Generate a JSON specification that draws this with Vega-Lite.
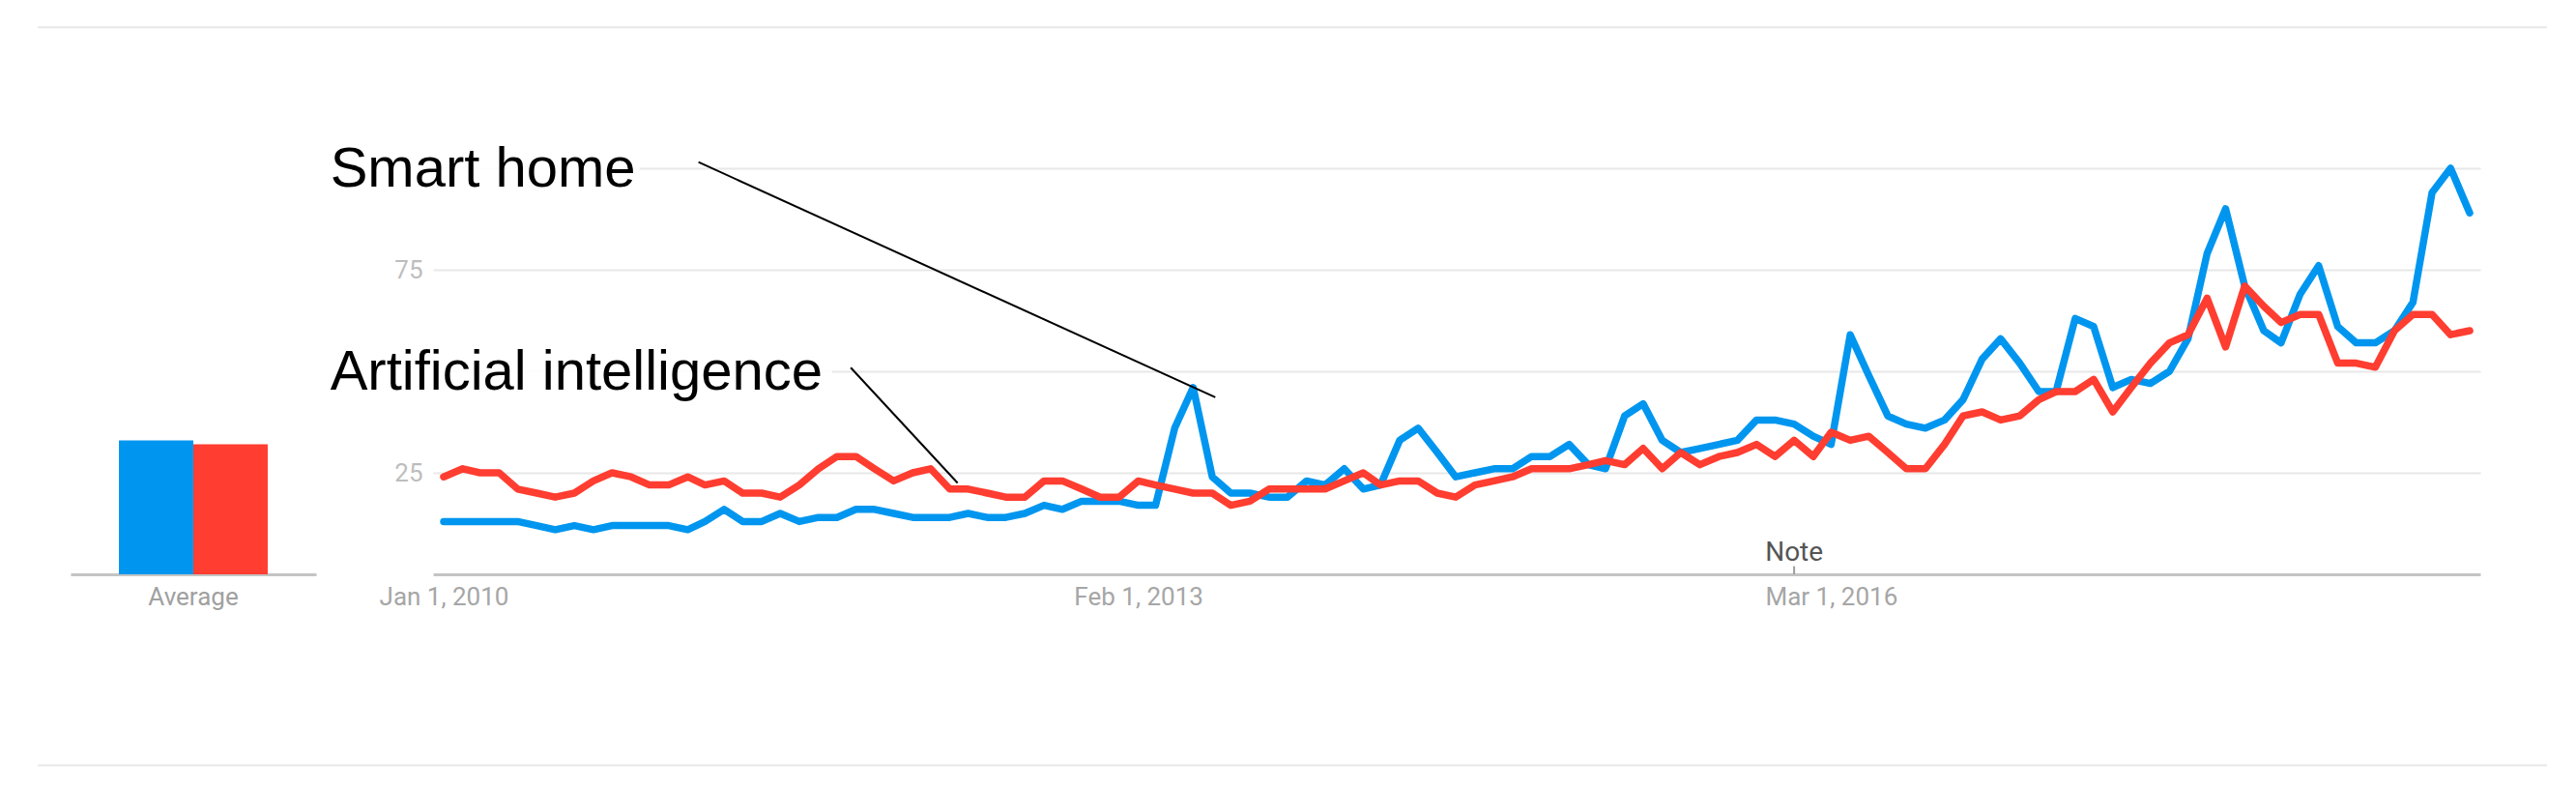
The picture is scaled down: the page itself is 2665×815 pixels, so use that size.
{
  "$schema": "https://vega.github.io/schema/vega-lite/v6.json",
  "background": "#ffffff",
  "autosize": {"type": "pad"},
  "padding": {"left": 38, "top": 27, "right": 29, "bottom": 22},
  "bounds": "flush",
  "spacing": 121,
  "config": {"view": {"stroke": null}, "font": "Roboto", "axis": {"zindex": 0, "labelFont": "Roboto"}},
  "datasets": {
    "average": [
      {"label": "Average", "series": "Smart home", "value": 33},
      {"label": "Average", "series": "Artificial intelligence", "value": 32}
    ],
    "trends": [
      {"date":"2010-01-01","series":"Smart home","value":13},{"date":"2010-02-01","series":"Smart home","value":13},{"date":"2010-03-01","series":"Smart home","value":13},{"date":"2010-04-01","series":"Smart home","value":13},{"date":"2010-05-01","series":"Smart home","value":13},{"date":"2010-06-01","series":"Smart home","value":12},{"date":"2010-07-01","series":"Smart home","value":11},{"date":"2010-08-01","series":"Smart home","value":12},{"date":"2010-09-01","series":"Smart home","value":11},{"date":"2010-10-01","series":"Smart home","value":12},{"date":"2010-11-01","series":"Smart home","value":12},{"date":"2010-12-01","series":"Smart home","value":12},
      {"date":"2011-01-01","series":"Smart home","value":12},{"date":"2011-02-01","series":"Smart home","value":11},{"date":"2011-03-01","series":"Smart home","value":13},{"date":"2011-04-01","series":"Smart home","value":16},{"date":"2011-05-01","series":"Smart home","value":13},{"date":"2011-06-01","series":"Smart home","value":13},{"date":"2011-07-01","series":"Smart home","value":15},{"date":"2011-08-01","series":"Smart home","value":13},{"date":"2011-09-01","series":"Smart home","value":14},{"date":"2011-10-01","series":"Smart home","value":14},{"date":"2011-11-01","series":"Smart home","value":16},{"date":"2011-12-01","series":"Smart home","value":16},
      {"date":"2012-01-01","series":"Smart home","value":15},{"date":"2012-02-01","series":"Smart home","value":14},{"date":"2012-03-01","series":"Smart home","value":14},{"date":"2012-04-01","series":"Smart home","value":14},{"date":"2012-05-01","series":"Smart home","value":15},{"date":"2012-06-01","series":"Smart home","value":14},{"date":"2012-07-01","series":"Smart home","value":14},{"date":"2012-08-01","series":"Smart home","value":15},{"date":"2012-09-01","series":"Smart home","value":17},{"date":"2012-10-01","series":"Smart home","value":16},{"date":"2012-11-01","series":"Smart home","value":18},{"date":"2012-12-01","series":"Smart home","value":18},
      {"date":"2013-01-01","series":"Smart home","value":18},{"date":"2013-02-01","series":"Smart home","value":17},{"date":"2013-03-01","series":"Smart home","value":17},{"date":"2013-04-01","series":"Smart home","value":36},{"date":"2013-05-01","series":"Smart home","value":46},{"date":"2013-06-01","series":"Smart home","value":24},{"date":"2013-07-01","series":"Smart home","value":20},{"date":"2013-08-01","series":"Smart home","value":20},{"date":"2013-09-01","series":"Smart home","value":19},{"date":"2013-10-01","series":"Smart home","value":19},{"date":"2013-11-01","series":"Smart home","value":23},{"date":"2013-12-01","series":"Smart home","value":22},
      {"date":"2014-01-01","series":"Smart home","value":26},{"date":"2014-02-01","series":"Smart home","value":21},{"date":"2014-03-01","series":"Smart home","value":22},{"date":"2014-04-01","series":"Smart home","value":33},{"date":"2014-05-01","series":"Smart home","value":36},{"date":"2014-06-01","series":"Smart home","value":30},{"date":"2014-07-01","series":"Smart home","value":24},{"date":"2014-08-01","series":"Smart home","value":25},{"date":"2014-09-01","series":"Smart home","value":26},{"date":"2014-10-01","series":"Smart home","value":26},{"date":"2014-11-01","series":"Smart home","value":29},{"date":"2014-12-01","series":"Smart home","value":29},
      {"date":"2015-01-01","series":"Smart home","value":32},{"date":"2015-02-01","series":"Smart home","value":27},{"date":"2015-03-01","series":"Smart home","value":26},{"date":"2015-04-01","series":"Smart home","value":39},{"date":"2015-05-01","series":"Smart home","value":42},{"date":"2015-06-01","series":"Smart home","value":33},{"date":"2015-07-01","series":"Smart home","value":30},{"date":"2015-08-01","series":"Smart home","value":31},{"date":"2015-09-01","series":"Smart home","value":32},{"date":"2015-10-01","series":"Smart home","value":33},{"date":"2015-11-01","series":"Smart home","value":38},{"date":"2015-12-01","series":"Smart home","value":38},
      {"date":"2016-01-01","series":"Smart home","value":37},{"date":"2016-02-01","series":"Smart home","value":34},{"date":"2016-03-01","series":"Smart home","value":32},{"date":"2016-04-01","series":"Smart home","value":59},{"date":"2016-05-01","series":"Smart home","value":49},{"date":"2016-06-01","series":"Smart home","value":39},{"date":"2016-07-01","series":"Smart home","value":37},{"date":"2016-08-01","series":"Smart home","value":36},{"date":"2016-09-01","series":"Smart home","value":38},{"date":"2016-10-01","series":"Smart home","value":43},{"date":"2016-11-01","series":"Smart home","value":53},{"date":"2016-12-01","series":"Smart home","value":58},
      {"date":"2017-01-01","series":"Smart home","value":52},{"date":"2017-02-01","series":"Smart home","value":45},{"date":"2017-03-01","series":"Smart home","value":45},{"date":"2017-04-01","series":"Smart home","value":63},{"date":"2017-05-01","series":"Smart home","value":61},{"date":"2017-06-01","series":"Smart home","value":46},{"date":"2017-07-01","series":"Smart home","value":48},{"date":"2017-08-01","series":"Smart home","value":47},{"date":"2017-09-01","series":"Smart home","value":50},{"date":"2017-10-01","series":"Smart home","value":58},{"date":"2017-11-01","series":"Smart home","value":79},{"date":"2017-12-01","series":"Smart home","value":90},
      {"date":"2018-01-01","series":"Smart home","value":71},{"date":"2018-02-01","series":"Smart home","value":60},{"date":"2018-03-01","series":"Smart home","value":57},{"date":"2018-04-01","series":"Smart home","value":69},{"date":"2018-05-01","series":"Smart home","value":76},{"date":"2018-06-01","series":"Smart home","value":61},{"date":"2018-07-01","series":"Smart home","value":57},{"date":"2018-08-01","series":"Smart home","value":57},{"date":"2018-09-01","series":"Smart home","value":60},{"date":"2018-10-01","series":"Smart home","value":67},{"date":"2018-11-01","series":"Smart home","value":94},{"date":"2018-12-01","series":"Smart home","value":100},
      {"date":"2019-01-01","series":"Smart home","value":89},
      {"date":"2010-01-01","series":"Artificial intelligence","value":24},{"date":"2010-02-01","series":"Artificial intelligence","value":26},{"date":"2010-03-01","series":"Artificial intelligence","value":25},{"date":"2010-04-01","series":"Artificial intelligence","value":25},{"date":"2010-05-01","series":"Artificial intelligence","value":21},{"date":"2010-06-01","series":"Artificial intelligence","value":20},{"date":"2010-07-01","series":"Artificial intelligence","value":19},{"date":"2010-08-01","series":"Artificial intelligence","value":20},{"date":"2010-09-01","series":"Artificial intelligence","value":23},{"date":"2010-10-01","series":"Artificial intelligence","value":25},{"date":"2010-11-01","series":"Artificial intelligence","value":24},{"date":"2010-12-01","series":"Artificial intelligence","value":22},
      {"date":"2011-01-01","series":"Artificial intelligence","value":22},{"date":"2011-02-01","series":"Artificial intelligence","value":24},{"date":"2011-03-01","series":"Artificial intelligence","value":22},{"date":"2011-04-01","series":"Artificial intelligence","value":23},{"date":"2011-05-01","series":"Artificial intelligence","value":20},{"date":"2011-06-01","series":"Artificial intelligence","value":20},{"date":"2011-07-01","series":"Artificial intelligence","value":19},{"date":"2011-08-01","series":"Artificial intelligence","value":22},{"date":"2011-09-01","series":"Artificial intelligence","value":26},{"date":"2011-10-01","series":"Artificial intelligence","value":29},{"date":"2011-11-01","series":"Artificial intelligence","value":29},{"date":"2011-12-01","series":"Artificial intelligence","value":26},
      {"date":"2012-01-01","series":"Artificial intelligence","value":23},{"date":"2012-02-01","series":"Artificial intelligence","value":25},{"date":"2012-03-01","series":"Artificial intelligence","value":26},{"date":"2012-04-01","series":"Artificial intelligence","value":21},{"date":"2012-05-01","series":"Artificial intelligence","value":21},{"date":"2012-06-01","series":"Artificial intelligence","value":20},{"date":"2012-07-01","series":"Artificial intelligence","value":19},{"date":"2012-08-01","series":"Artificial intelligence","value":19},{"date":"2012-09-01","series":"Artificial intelligence","value":23},{"date":"2012-10-01","series":"Artificial intelligence","value":23},{"date":"2012-11-01","series":"Artificial intelligence","value":21},{"date":"2012-12-01","series":"Artificial intelligence","value":19},
      {"date":"2013-01-01","series":"Artificial intelligence","value":19},{"date":"2013-02-01","series":"Artificial intelligence","value":23},{"date":"2013-03-01","series":"Artificial intelligence","value":22},{"date":"2013-04-01","series":"Artificial intelligence","value":21},{"date":"2013-05-01","series":"Artificial intelligence","value":20},{"date":"2013-06-01","series":"Artificial intelligence","value":20},{"date":"2013-07-01","series":"Artificial intelligence","value":17},{"date":"2013-08-01","series":"Artificial intelligence","value":18},{"date":"2013-09-01","series":"Artificial intelligence","value":21},{"date":"2013-10-01","series":"Artificial intelligence","value":21},{"date":"2013-11-01","series":"Artificial intelligence","value":21},{"date":"2013-12-01","series":"Artificial intelligence","value":21},
      {"date":"2014-01-01","series":"Artificial intelligence","value":23},{"date":"2014-02-01","series":"Artificial intelligence","value":25},{"date":"2014-03-01","series":"Artificial intelligence","value":22},{"date":"2014-04-01","series":"Artificial intelligence","value":23},{"date":"2014-05-01","series":"Artificial intelligence","value":23},{"date":"2014-06-01","series":"Artificial intelligence","value":20},{"date":"2014-07-01","series":"Artificial intelligence","value":19},{"date":"2014-08-01","series":"Artificial intelligence","value":22},{"date":"2014-09-01","series":"Artificial intelligence","value":23},{"date":"2014-10-01","series":"Artificial intelligence","value":24},{"date":"2014-11-01","series":"Artificial intelligence","value":26},{"date":"2014-12-01","series":"Artificial intelligence","value":26},
      {"date":"2015-01-01","series":"Artificial intelligence","value":26},{"date":"2015-02-01","series":"Artificial intelligence","value":27},{"date":"2015-03-01","series":"Artificial intelligence","value":28},{"date":"2015-04-01","series":"Artificial intelligence","value":27},{"date":"2015-05-01","series":"Artificial intelligence","value":31},{"date":"2015-06-01","series":"Artificial intelligence","value":26},{"date":"2015-07-01","series":"Artificial intelligence","value":30},{"date":"2015-08-01","series":"Artificial intelligence","value":27},{"date":"2015-09-01","series":"Artificial intelligence","value":29},{"date":"2015-10-01","series":"Artificial intelligence","value":30},{"date":"2015-11-01","series":"Artificial intelligence","value":32},{"date":"2015-12-01","series":"Artificial intelligence","value":29},
      {"date":"2016-01-01","series":"Artificial intelligence","value":33},{"date":"2016-02-01","series":"Artificial intelligence","value":29},{"date":"2016-03-01","series":"Artificial intelligence","value":35},{"date":"2016-04-01","series":"Artificial intelligence","value":33},{"date":"2016-05-01","series":"Artificial intelligence","value":34},{"date":"2016-06-01","series":"Artificial intelligence","value":30},{"date":"2016-07-01","series":"Artificial intelligence","value":26},{"date":"2016-08-01","series":"Artificial intelligence","value":26},{"date":"2016-09-01","series":"Artificial intelligence","value":32},{"date":"2016-10-01","series":"Artificial intelligence","value":39},{"date":"2016-11-01","series":"Artificial intelligence","value":40},{"date":"2016-12-01","series":"Artificial intelligence","value":38},
      {"date":"2017-01-01","series":"Artificial intelligence","value":39},{"date":"2017-02-01","series":"Artificial intelligence","value":43},{"date":"2017-03-01","series":"Artificial intelligence","value":45},{"date":"2017-04-01","series":"Artificial intelligence","value":45},{"date":"2017-05-01","series":"Artificial intelligence","value":48},{"date":"2017-06-01","series":"Artificial intelligence","value":40},{"date":"2017-07-01","series":"Artificial intelligence","value":46},{"date":"2017-08-01","series":"Artificial intelligence","value":52},{"date":"2017-09-01","series":"Artificial intelligence","value":57},{"date":"2017-10-01","series":"Artificial intelligence","value":59},{"date":"2017-11-01","series":"Artificial intelligence","value":68},{"date":"2017-12-01","series":"Artificial intelligence","value":56},
      {"date":"2018-01-01","series":"Artificial intelligence","value":71},{"date":"2018-02-01","series":"Artificial intelligence","value":66},{"date":"2018-03-01","series":"Artificial intelligence","value":62},{"date":"2018-04-01","series":"Artificial intelligence","value":64},{"date":"2018-05-01","series":"Artificial intelligence","value":64},{"date":"2018-06-01","series":"Artificial intelligence","value":52},{"date":"2018-07-01","series":"Artificial intelligence","value":52},{"date":"2018-08-01","series":"Artificial intelligence","value":51},{"date":"2018-09-01","series":"Artificial intelligence","value":60},{"date":"2018-10-01","series":"Artificial intelligence","value":64},{"date":"2018-11-01","series":"Artificial intelligence","value":64},{"date":"2018-12-01","series":"Artificial intelligence","value":59},
      {"date":"2019-01-01","series":"Artificial intelligence","value":60}
    ]
  },
  "hconcat": [
    {
      "width": 254,
      "height": 420,
      "data": {"name": "average"},
      "mark": {"type": "bar"},
      "encoding": {
        "x": {
          "field": "label", "type": "nominal",
          "scale": {"paddingInner": 0, "paddingOuter": 0.325},
          "axis": {"title": null, "domain": true, "domainColor": "#c4c4c4", "domainWidth": 3, "ticks": false, "tickSize": 0, "labelPadding": 10, "labelFontSize": 26, "labelColor": "#a0a0a0", "labelAngle": 0, "grid": false}
        },
        "xOffset": {"field": "series", "type": "nominal", "scale": {"domain": ["Smart home", "Artificial intelligence"], "paddingInner": 0, "paddingOuter": 0}},
        "y": {"field": "value", "type": "quantitative", "scale": {"domain": [0, 100], "nice": false}, "axis": null},
        "color": {"field": "series", "type": "nominal", "scale": {"domain": ["Smart home", "Artificial intelligence"], "range": ["#0096ef", "#ff3d30"]}, "legend": null}
      }
    },
    {
      "width": 2118,
      "height": 420,
      "data": {"name": "trends"},
      "layer": [
        {
          "transform": [{"filter": "datum.series === 'Smart home'"}],
          "mark": {"type": "line", "color": "#0096ef", "strokeWidth": 7.5, "strokeJoin": "round", "strokeCap": "round"},
          "encoding": {
            "x": {
              "field": "date", "type": "temporal",
              "scale": {"domain": [{"year": 2009, "month": 12, "date": 14, "hours": 18}, {"year": 2019, "month": 1, "date": 18, "hours": 6}]},
              "axis": {
                "title": null,
                "values": [{"year": 2010, "month": 1, "date": 1}, {"year": 2013, "month": 2, "date": 1}, {"year": 2016, "month": 3, "date": 1}],
                "format": "%b %-d, %Y",
                "labelFlush": false, "labelOverlap": false,
                "ticks": false, "tickSize": 0, "grid": false,
                "domain": true, "domainColor": "#c4c4c4", "domainWidth": 3,
                "labelPadding": 10, "labelFontSize": 26, "labelColor": "#a6a6a6"
              }
            },
            "y": {
              "field": "value", "type": "quantitative",
              "scale": {"domain": [0, 100], "nice": false},
              "axis": {
                "title": null, "values": [25, 50, 75, 100],
                "labelExpr": "datum.value == 25 || datum.value == 75 ? datum.label : ''",
                "grid": true, "gridColor": "#e8e8e8", "gridWidth": 2,
                "domain": false, "ticks": false, "tickSize": 0,
                "labelPadding": 11, "labelFontSize": 26, "labelColor": "#bdbdbd"
              }
            }
          }
        },
        {
          "data": {"values": [{}]},
          "mark": {"type": "rule", "color": "#e8e8e8", "strokeWidth": 2},
          "encoding": {
            "x": {"datum": {"year": 2008, "month": 3, "date": 13, "hours": 10}, "type": "temporal"},
            "x2": {"datum": {"year": 2019, "month": 5, "date": 6, "hours": 10}},
            "y": {"datum": 134.7, "type": "quantitative"}
          }
        },
        {
          "data": {"values": [{}]},
          "mark": {"type": "rule", "color": "#e8e8e8", "strokeWidth": 2},
          "encoding": {
            "x": {"datum": {"year": 2008, "month": 3, "date": 13, "hours": 10}, "type": "temporal"},
            "x2": {"datum": {"year": 2019, "month": 5, "date": 6, "hours": 10}},
            "y": {"datum": -47, "type": "quantitative"}
          }
        },
        {
          "data": {"values": [{}]},
          "mark": {"type": "rect", "color": "#ffffff", "opacity": 0.88},
          "encoding": {
            "x": {"datum": {"year": 2009, "month": 6, "date": 20}, "type": "temporal"},
            "x2": {"datum": {"year": 2010, "month": 11, "date": 15}},
            "y": {"datum": 91, "type": "quantitative"},
            "y2": {"datum": 110}
          }
        },
        {
          "data": {"values": [{}]},
          "mark": {"type": "rect", "color": "#ffffff", "opacity": 0.88},
          "encoding": {
            "x": {"datum": {"year": 2009, "month": 6, "date": 20}, "type": "temporal"},
            "x2": {"datum": {"year": 2011, "month": 9, "date": 23}},
            "y": {"datum": 40.5, "type": "quantitative"},
            "y2": {"datum": 58}
          }
        },
        {
          "transform": [{"filter": "datum.series === 'Artificial intelligence'"}],
          "mark": {"type": "line", "color": "#ff3d30", "strokeWidth": 7.5, "strokeJoin": "round", "strokeCap": "round"},
          "encoding": {
            "x": {"field": "date", "type": "temporal"},
            "y": {"field": "value", "type": "quantitative"}
          }
        },
        {
          "data": {"values": [{}]},
          "mark": {"type": "rule", "color": "#000000", "strokeWidth": 2},
          "encoding": {
            "x": {"datum": {"year": 2011, "month": 2, "date": 18, "hours": 10}, "type": "temporal"},
            "x2": {"datum": {"year": 2013, "month": 6, "date": 5, "hours": 22}},
            "y": {"datum": 101.5, "type": "quantitative"},
            "y2": {"datum": 43.6}
          }
        },
        {
          "data": {"values": [{}]},
          "mark": {"type": "rule", "color": "#000000", "strokeWidth": 2},
          "encoding": {
            "x": {"datum": {"year": 2011, "month": 10, "date": 23, "hours": 10}, "type": "temporal"},
            "x2": {"datum": {"year": 2012, "month": 4, "date": 13, "hours": 19}},
            "y": {"datum": 50.9, "type": "quantitative"},
            "y2": {"datum": 22.5}
          }
        },
        {
          "data": {"values": [{}]},
          "mark": {"type": "text", "text": "Smart home", "font": "Liberation Sans", "fontSize": 58, "color": "#000000", "align": "left", "baseline": "alphabetic"},
          "encoding": {
            "x": {"datum": {"year": 2009, "month": 7, "date": 1}, "type": "temporal"},
            "y": {"datum": 95.4, "type": "quantitative"}
          }
        },
        {
          "data": {"values": [{}]},
          "mark": {"type": "text", "text": "Artificial intelligence", "font": "Liberation Sans", "fontSize": 58, "color": "#000000", "align": "left", "baseline": "alphabetic"},
          "encoding": {
            "x": {"datum": {"year": 2009, "month": 7, "date": 1}, "type": "temporal"},
            "y": {"datum": 45.4, "type": "quantitative"}
          }
        },
        {
          "data": {"values": [{}]},
          "mark": {"type": "rule", "color": "#9e9e9e", "strokeWidth": 2},
          "encoding": {
            "x": {"datum": {"year": 2016, "month": 1, "date": 1}, "type": "temporal"},
            "y": {"datum": 0, "type": "quantitative"},
            "y2": {"datum": 2}
          }
        },
        {
          "data": {"values": [{}]},
          "mark": {"type": "text", "text": "Note", "font": "Roboto", "fontSize": 28, "color": "#555555", "align": "center", "baseline": "alphabetic"},
          "encoding": {
            "x": {"datum": {"year": 2016, "month": 1, "date": 1}, "type": "temporal"},
            "y": {"datum": 3.3, "type": "quantitative"}
          }
        }
      ]
    }
  ]
}
